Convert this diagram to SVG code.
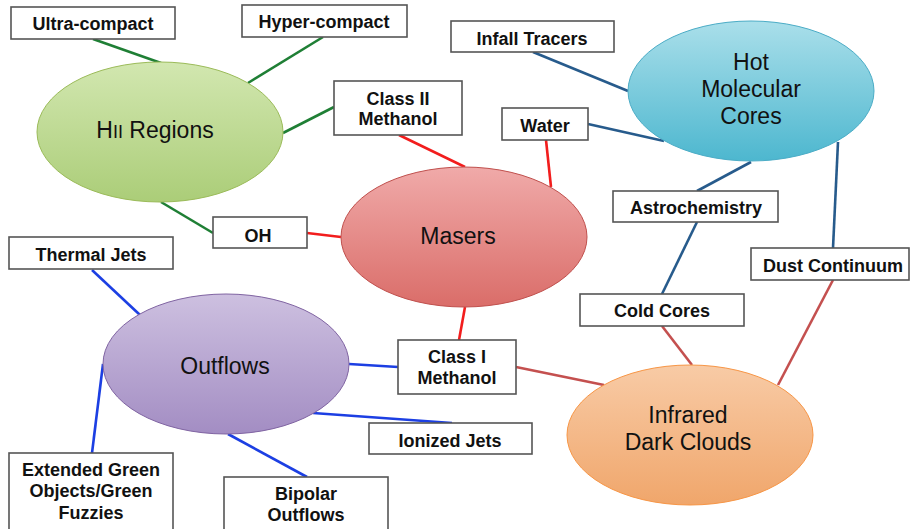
<svg xmlns="http://www.w3.org/2000/svg" width="910" height="529" viewBox="0 0 910 529">
<defs>
<linearGradient id="gG" x1="0" y1="0" x2="0" y2="1"><stop offset="0" stop-color="#d2e7b0"/><stop offset="1" stop-color="#abcd78"/></linearGradient>
<linearGradient id="gR" x1="0" y1="0" x2="0" y2="1"><stop offset="0" stop-color="#f0aaa9"/><stop offset="1" stop-color="#da6d69"/></linearGradient>
<linearGradient id="gC" x1="0" y1="0" x2="0" y2="1"><stop offset="0" stop-color="#aadfea"/><stop offset="1" stop-color="#4db7cf"/></linearGradient>
<linearGradient id="gP" x1="0" y1="0" x2="0" y2="1"><stop offset="0" stop-color="#cdc0e0"/><stop offset="1" stop-color="#a38dc3"/></linearGradient>
<linearGradient id="gO" x1="0" y1="0" x2="0" y2="1"><stop offset="0" stop-color="#f8cba6"/><stop offset="1" stop-color="#f0a66b"/></linearGradient>
</defs>
<style>
.box{fill:#fff;stroke:#555;stroke-width:1.6}
.bt{font-family:"Liberation Sans",Arial,sans-serif;font-weight:bold;font-size:18px;fill:#111;text-anchor:middle}
.et{font-family:"Liberation Sans",Arial,sans-serif;font-size:23px;fill:#111;text-anchor:middle}
.c{fill:none;stroke-width:2.6}
.g{stroke:#1f7f35}.r{stroke:#f21d1d}.d{stroke:#275b8c}.m{stroke:#c4504f}.b{stroke:#1c3fe3}
</style>
<rect width="910" height="529" fill="#fff"/>
<g id="connectors">
<line class="c g" x1="93" y1="39" x2="161" y2="63"/>
<line class="c g" x1="323" y1="37" x2="248" y2="83"/>
<line class="c g" x1="334" y1="107" x2="283" y2="133"/>
<line class="c g" x1="161" y1="202" x2="213" y2="233"/>
<line class="c r" x1="307" y1="233" x2="341" y2="237"/>
<line class="c r" x1="399" y1="135" x2="465" y2="167"/>
<line class="c r" x1="546" y1="140" x2="551" y2="187"/>
<line class="c r" x1="465" y1="307" x2="459" y2="340"/>
<line class="c d" x1="533" y1="52" x2="628" y2="91"/>
<line class="c d" x1="588" y1="124" x2="664" y2="141"/>
<line class="c d" x1="751" y1="162" x2="697" y2="191"/>
<line class="c d" x1="697" y1="222" x2="662" y2="294"/>
<line class="c d" x1="838" y1="142" x2="833" y2="248"/>
<line class="c m" x1="662" y1="326" x2="692" y2="365"/>
<line class="c m" x1="833" y1="280" x2="778" y2="385"/>
<line class="c m" x1="516" y1="367" x2="604" y2="385"/>
<line class="c b" x1="92" y1="270" x2="140" y2="315"/>
<line class="c b" x1="92" y1="453" x2="103" y2="364"/>
<line class="c b" x1="349" y1="364" x2="398" y2="367"/>
<line class="c b" x1="313" y1="413" x2="452" y2="423"/>
<line class="c b" x1="228" y1="434" x2="307" y2="477"/>
</g>
<g id="hii"><ellipse cx="160" cy="132" rx="123" ry="70" fill="url(#gG)" stroke="#9bbb59" stroke-width="1"/><text class="et" x="155" y="138">H<tspan font-size="18">II</tspan> Regions</text></g>
<g id="masers"><ellipse cx="464" cy="237" rx="123" ry="70" fill="url(#gR)" stroke="#c0504d" stroke-width="1"/><text class="et" x="458" y="244">Masers</text></g>
<g id="hmc"><ellipse cx="751" cy="91" rx="123" ry="70" fill="url(#gC)" stroke="#4bacc6" stroke-width="1"/><text class="et" x="751" y="70">Hot</text><text class="et" x="751" y="97">Molecular</text><text class="et" x="751" y="124">Cores</text></g>
<g id="outflows"><ellipse cx="226" cy="364" rx="123" ry="70" fill="url(#gP)" stroke="#8064a2" stroke-width="1"/><text class="et" x="225" y="374">Outflows</text></g>
<g id="irdc"><ellipse cx="690" cy="435" rx="123" ry="70" fill="url(#gO)" stroke="#f79646" stroke-width="1"/><text class="et" x="688" y="423">Infrared</text><text class="et" x="688" y="450">Dark Clouds</text></g>
<g id="ultra"><rect class="box" x="11" y="7" width="164" height="32"/><text class="bt" x="93" y="30">Ultra-compact</text></g>
<g id="hyper"><rect class="box" x="242" y="5" width="165" height="32"/><text class="bt" x="324" y="28">Hyper-compact</text></g>
<g id="class2"><rect class="box" x="334" y="81" width="128" height="54"/><text class="bt" x="398" y="105">Class II</text><text class="bt" x="398" y="125">Methanol</text></g>
<g id="oh"><rect class="box" x="213" y="217" width="94" height="31"/><text class="bt" x="258" y="242">OH</text></g>
<g id="infall"><rect class="box" x="451" y="21" width="163" height="31"/><text class="bt" x="532" y="45">Infall Tracers</text></g>
<g id="water"><rect class="box" x="502" y="108" width="86" height="32"/><text class="bt" x="545" y="132">Water</text></g>
<g id="astro"><rect class="box" x="613" y="191" width="165" height="31"/><text class="bt" x="696" y="214">Astrochemistry</text></g>
<g id="thermal"><rect class="box" x="9" y="237" width="164" height="32"/><text class="bt" x="91" y="261">Thermal Jets</text></g>
<g id="dust"><rect class="box" x="751" y="248" width="158" height="32"/><text class="bt" x="833" y="272">Dust Continuum</text></g>
<g id="cold"><rect class="box" x="580" y="294" width="164" height="32"/><text class="bt" x="662" y="317">Cold Cores</text></g>
<g id="class1"><rect class="box" x="398" y="340" width="118" height="54"/><text class="bt" x="457" y="363">Class I</text><text class="bt" x="457" y="384">Methanol</text></g>
<g id="ionized"><rect class="box" x="369" y="423" width="163" height="31"/><text class="bt" x="450" y="447">Ionized Jets</text></g>
<g id="egos"><rect class="box" x="9" y="453" width="164" height="80"/><text class="bt" x="91" y="476">Extended Green</text><text class="bt" x="91" y="497">Objects/Green</text><text class="bt" x="91" y="519">Fuzzies</text></g>
<g id="bipolar"><rect class="box" x="224" y="477" width="164" height="56"/><text class="bt" x="306" y="500">Bipolar</text><text class="bt" x="306" y="521">Outflows</text></g>
</svg>
